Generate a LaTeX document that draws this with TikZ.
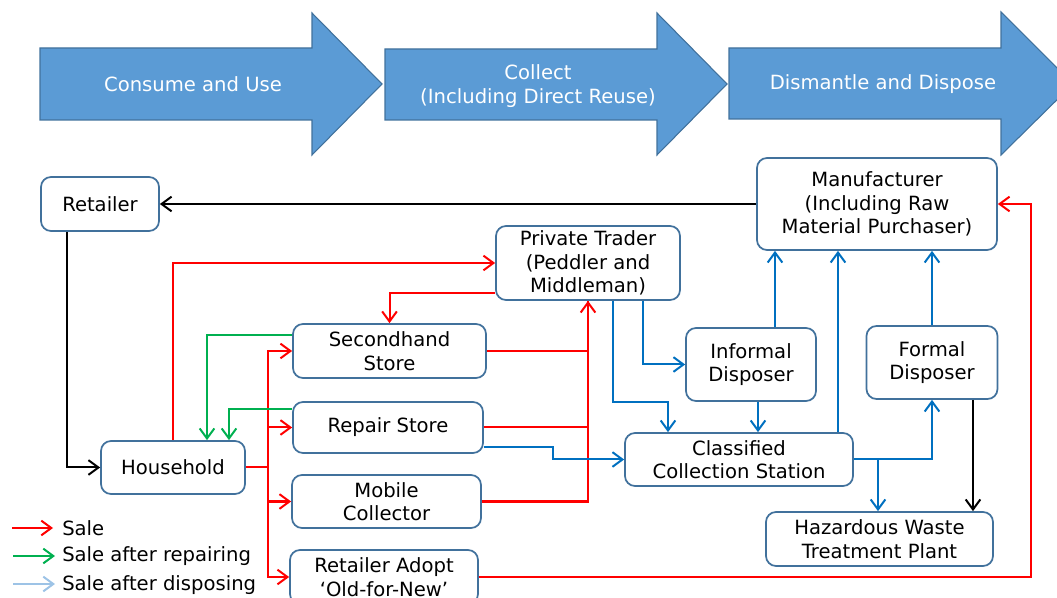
\documentclass[tikz,border=0pt]{standalone}
\usepackage{fontspec}
\setmainfont{DejaVu Sans}
\usetikzlibrary{arrows.meta}

\definecolor{stagefill}{RGB}{91,155,213}
\definecolor{stageedge}{RGB}{65,113,156}
\definecolor{boxedge}{RGB}{65,113,156}
\definecolor{saleRed}{RGB}{255,0,0}
\definecolor{repairGreen}{RGB}{0,176,80}
\definecolor{disposeBlue}{RGB}{0,112,192}
\definecolor{legendBlue}{RGB}{157,195,230}

\begin{document}
\begin{tikzpicture}[x=0.75pt,y=-0.75pt,
  txt/.style={font=\fontsize{14.7}{17.6}\selectfont, align=center},
  box/.style={txt, draw=boxedge, fill=white, rounded corners=7.5pt,
    line width=1.3pt, inner sep=0pt},
  wh/.style 2 args={minimum width=#1*0.75pt, minimum height=#2*0.75pt},
  stage/.style={fill=stagefill, draw=stageedge, line width=0.8pt},
  stagetext/.style={txt, text=white},
  tip/.style={-{Straight Barb[length=7.5pt,width=11pt]}},
  link/.style={line width=1.5pt},
  sale/.style={link, draw=saleRed},
  repaired/.style={link, draw=repairGreen},
  disposed/.style={link, draw=disposeBlue},
  supply/.style={link, draw=black},
]
\clip (0,0) rectangle (1057,598);

% stage arrows along the top
\path[stage] (40,48) -- (312,48) -- (312,13) -- (382,84) -- (312,155) -- (312,120) -- (40,120) -- cycle;
\path[stage] (385,49) -- (657,49) -- (657,13) -- (727,84) -- (657,155) -- (657,120) -- (385,120) -- cycle;
\path[stage] (729,48) -- (1001,48) -- (1001,12) -- (1073,84) -- (1001,155) -- (1001,119) -- (729,119) -- cycle;
\node[stagetext] (stage1) at (193,84) {Consume and Use};
\node[stagetext] (stage2) at (538,86) {Collect\\(Including Direct Reuse)};
\node[stagetext] (stage3) at (883,84) {Dismantle and Dispose};

% actors
\node[box, wh={118}{54}]  (ret) at (100,204)   {Retailer};
\node[box, wh={144}{53}]  (hh)  at (173,467.5) {Household};
\node[box, wh={193}{54}]  (sec) at (389.5,351) {Secondhand\\Store};
\node[box, wh={190}{51}]  (rep) at (388,427.5) {Repair Store};
\node[box, wh={189}{53}]  (mob) at (386.5,501.5) {Mobile\\Collector};
\node[box, wh={188}{54}]  (rad) at (384,577)   {Retailer Adopt\\‘Old-for-New’};
\node[box, wh={184}{74}]  (pt)  at (588,263)   {Private Trader\\(Peddler and\\Middleman)};
\node[box, wh={240}{92}]  (man) at (877,204)   {Manufacturer\\(Including Raw\\Material Purchaser)};
\node[box, wh={130}{73}]  (inf) at (751,364.5) {Informal\\Disposer};
\node[box, wh={131}{73}]  (frm) at (932,362.5) {Formal\\Disposer};
\node[box, wh={228}{53}]  (cls) at (739,459.5) {Classified\\Collection Station};
\node[box, wh={227}{54}]  (haz) at (879.5,539) {Hazardous Waste\\Treatment Plant};

% routing rails
\coordinate (vRet)  at (67,0);
\coordinate (vGrA)  at (207,0);
\coordinate (vGrB)  at (229,0);
\coordinate (vRed)  at (268,0);
\coordinate (vJog)  at (553,0);
\coordinate (vTrA)  at (613,0);
\coordinate (vTrB)  at (643,0);
\coordinate (vTrC)  at (668,0);
\coordinate (vInfD) at (758,0);
\coordinate (vInfU) at (775,0);
\coordinate (vClsU) at (838,0);
\coordinate (vHaz)  at (878,0);
\coordinate (vFrmD) at (973,0);
\coordinate (vOut)  at (1031,0);
\coordinate (hPt)   at (0,293);
\coordinate (hGrA)  at (0,335);
\coordinate (hTr)   at (0,402);
\coordinate (hGrB)  at (0,409);
\coordinate (hRepB) at (0,447);

% supply chain
\draw[supply, tip] (man.west) -- (ret.east);
\draw[supply, tip] (ret.south -| vRet) |- (hh.west);
\draw[supply, tip] (frm.south -| vFrmD) -- (haz.north -| vFrmD);

% sales
\draw[sale, tip] (hh.north) |- (pt.west);
\draw[sale, tip] (pt.west |- hPt) -| (sec.north);
\draw[sale] (hh.east) -- (hh.east -| vRed);
\draw[sale, tip] (hh.east -| vRed) |- (sec.west);
\draw[sale, tip] (hh.east -| vRed) |- (rep.west);
\draw[sale, tip] (hh.east -| vRed) |- (mob.west);
\draw[sale, tip] (hh.east -| vRed) |- (rad.west);
\draw[sale] (sec.east) -| (pt.south);
\draw[sale] (rep.east) -| (pt.south);
\draw[sale, tip] (mob.east) -| (pt.south);
\draw[sale, tip] (rad.east) -| (man.east -| vOut) -- (man.east);

% sales after repairing
\draw[repaired, tip] (sec.west |- hGrA) -| (hh.north -| vGrA);
\draw[repaired, tip] (rep.west |- hGrB) -| (hh.north -| vGrB);

% sales after disposing
\draw[disposed, tip] (pt.south -| vTrB) |- (inf.west);
\draw[disposed, tip] (pt.south -| vTrA) |- (hTr -| vTrC) -- (cls.north -| vTrC);
\draw[disposed, tip] (rep.east |- hRepB) -| (cls.west -| vJog) -- (cls.west);
\draw[disposed, tip] (inf.south -| vInfD) -- (cls.north -| vInfD);
\draw[disposed, tip] (inf.north -| vInfU) -- (man.south -| vInfU);
\draw[disposed, tip] (cls.north -| vClsU) -- (man.south -| vClsU);
\draw[disposed, tip] (frm.north) -- (man.south -| frm.north);
\draw[disposed, tip] (cls.east) -| (frm.south);
\draw[disposed, tip] (cls.east -| vHaz) -- (haz.north -| vHaz);

% legend
\coordinate (lgA0) at (12,528);  \coordinate (lgA1) at (53,528);
\coordinate (lgB0) at (13,556);  \coordinate (lgB1) at (55,556);
\coordinate (lgC0) at (13,584);  \coordinate (lgC1) at (55,584);
\draw[sale, tip] (lgA0) -- (lgA1);
\draw[repaired, tip] (lgB0) -- (lgB1);
\draw[link, draw=legendBlue, tip] (lgC0) -- (lgC1);
\node[txt, anchor=west, inner sep=0pt] (lgA) at (62,528) {Sale};
\node[txt, anchor=west, inner sep=0pt] (lgB) at (62,556) {Sale after repairing};
\node[txt, anchor=west, inner sep=0pt] (lgC) at (62,585) {Sale after disposing};
\end{tikzpicture}
\end{document}
